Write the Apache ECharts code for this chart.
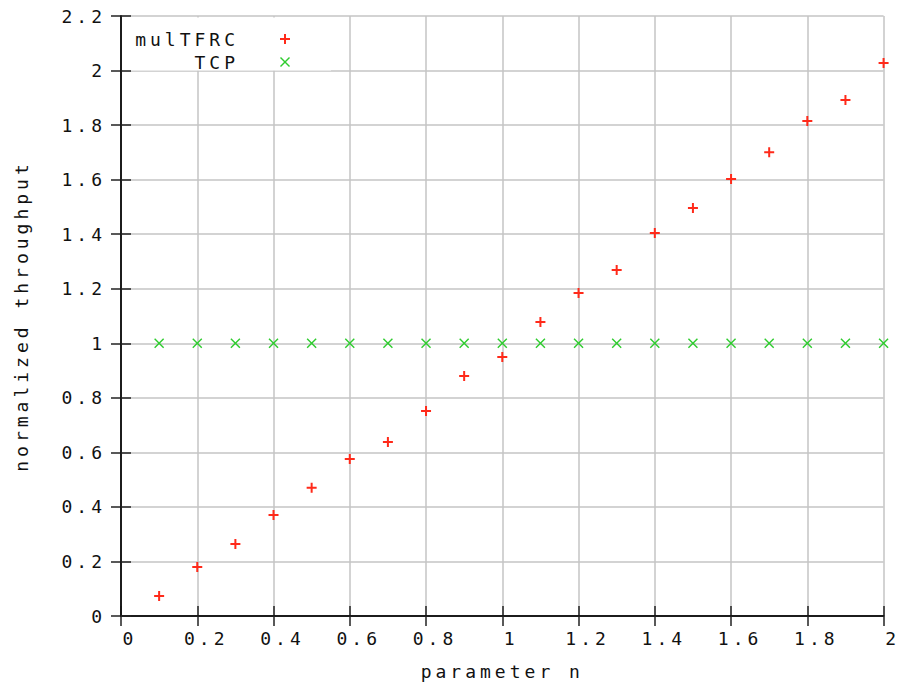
<!DOCTYPE html>
<html>
<head>
<meta charset="utf-8">
<script src="https://cdn.jsdelivr.net/npm/echarts@6/dist/echarts.min.js"></script>
<style>
    html, body { margin: 0; padding: 0; background: #fff; }
    #chart { width: 901px; height: 685px; }
    #chart text { letter-spacing: 4px; }
</style>
</head>
<body>
<div id="chart"></div>
<script>
const nValues = [0.1, 0.2, 0.3, 0.4, 0.5, 0.6, 0.7, 0.8, 0.9, 1.0,
    1.1, 1.2, 1.3, 1.4, 1.5, 1.6, 1.7, 1.8, 1.9, 2.0];
const multfrcValues = [0.073, 0.18, 0.264, 0.37, 0.47, 0.576, 0.638, 0.752, 0.88, 0.95,
    1.078, 1.184, 1.269, 1.404, 1.496, 1.602, 1.70, 1.815, 1.892, 2.028];
const tcpValues = [1, 1, 1, 1, 1, 1, 1, 1, 1, 1,
    1, 1, 1, 1, 1, 1, 1, 1, 1, 1];

const font = '"DejaVu Sans Mono", monospace';
const plusSymbol = 'path://M4,0H6V4H10V6H6V10H4V6H0V4H4Z';
const crossSymbol = 'path://M0,1L1,0L5,4L9,0L10,1L6,5L10,9L9,10L5,6L1,10L0,9L4,5Z';

const chart = echarts.init(document.getElementById('chart'), null, { renderer: 'svg' });

const tickStyle = { show: true, inside: true, length: 10, lineStyle: { color: '#222', width: 1.5 } };
const lineStyle = { show: true, lineStyle: { color: '#111', width: 1.5 } };
const labelStyle = { color: '#111', fontFamily: font, fontSize: 18 };

const option = {
    animation: false,
    backgroundColor: '#fff',
    grid: { left: 121, right: 13, top: 16, bottom: 69 },
    graphic: {
        elements: [{
            type: 'rect',
            z: 1,
            shape: { x: 123, y: 17.5, width: 208, height: 53 },
            style: { fill: '#fff' },
            silent: true,
        }],
    },
    legend: {
        orient: 'vertical',
        align: 'right',
        right: 611,
        top: 30,
        padding: 0,
        itemWidth: 10,
        itemHeight: 10,
        itemGap: 5,
        textStyle: { ...labelStyle, padding: [0, 36, 0, 0] },
        data: ['mulTFRC', 'TCP'],
    },
    xAxis: [
        {
            type: 'value', position: 'bottom', min: 0, max: 2, interval: 0.2,
            name: 'parameter n', nameLocation: 'middle', nameGap: 46,
            nameTextStyle: labelStyle,
            axisLine: lineStyle,
            axisTick: tickStyle,
            axisLabel: { ...labelStyle, margin: 13, padding: [0, 0, 0, 18] },
            splitLine: { show: true, lineStyle: { color: '#c4c4c4', width: 1.5 } },
        },
        {
            type: 'value', position: 'top', min: 0, max: 2, interval: 0.2, z: 3,
            axisLine: lineStyle,
            axisTick: tickStyle,
            axisLabel: { show: false },
            splitLine: { show: false },
        },
    ],
    yAxis: [
        {
            type: 'value', position: 'left', min: 0, max: 2.2, interval: 0.2, z: 3,
            name: 'normalized throughput', nameLocation: 'middle', nameGap: 91,
            nameTextStyle: labelStyle,
            axisLine: lineStyle,
            axisTick: tickStyle,
            axisLabel: { ...labelStyle, margin: 15 },
            splitLine: { show: false },
        },
        {
            type: 'value', position: 'right', min: 0, max: 2.2, interval: 0.2,
            axisLine: lineStyle,
            axisTick: tickStyle,
            axisLabel: { show: false },
            splitLine: { show: true, lineStyle: { color: '#c4c4c4', width: 1.5 } },
        },
    ],
    series: [
        {
            name: 'mulTFRC',
            type: 'scatter',
            symbol: plusSymbol,
            symbolSize: 10,
            itemStyle: { color: '#ff2a1a', opacity: 1 },
            data: nValues.map((n, i) => [n, multfrcValues[i]]),
        },
        {
            name: 'TCP',
            type: 'scatter',
            symbol: crossSymbol,
            symbolSize: 10,
            itemStyle: { color: '#2ecc2e', opacity: 1 },
            data: nValues.map((n, i) => [n, tcpValues[i]]),
        },
    ],
};

chart.setOption(option);
</script>
</body>
</html>
